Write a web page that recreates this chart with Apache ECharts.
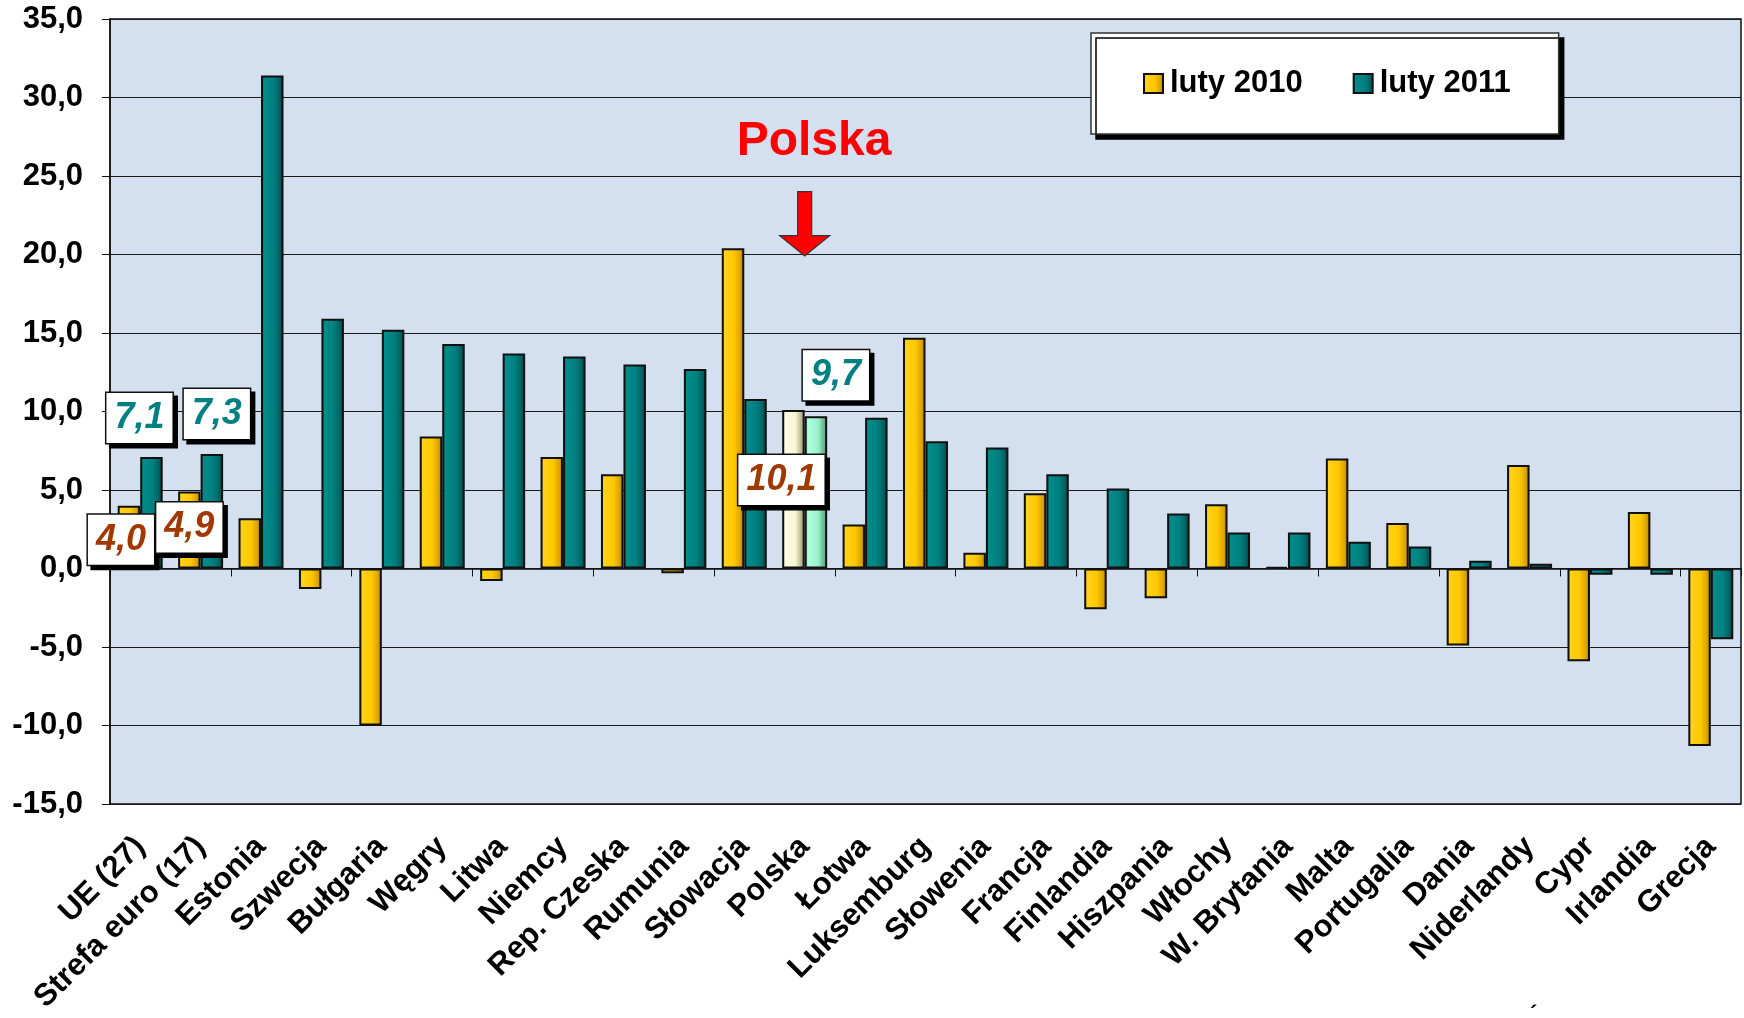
<!DOCTYPE html>
<html>
<head>
<meta charset="utf-8">
<script src="https://cdn.jsdelivr.net/npm/echarts@6/dist/echarts.min.js"></script>
<style>
html,body{margin:0;padding:0;background:#fff;}
#c{width:1744px;height:1018px;}
</style>
</head>
<body>
<div id="c"></div>
<script>
// ---- data ----
var categories = ['UE (27)', 'Strefa euro (17)', 'Estonia', 'Szwecja', 'Bułgaria', 'Węgry', 'Litwa', 'Niemcy', 'Rep. Czeska', 'Rumunia', 'Słowacja', 'Polska', 'Łotwa', 'Luksemburg', 'Słowenia', 'Francja', 'Finlandia', 'Hiszpania', 'Włochy', 'W. Brytania', 'Malta', 'Portugalia', 'Dania', 'Niderlandy', 'Cypr', 'Irlandia', 'Grecja'];
var luty2010 = [4.0, 4.9, 3.2, -1.3, -10.0, 8.4, -0.8, 7.1, 6.0, -0.3, 20.4, 10.1, 2.8, 14.7, 1.0, 4.8, -2.6, -1.9, 4.1, 0.1, 7.0, 2.9, -4.9, 6.6, -5.9, 3.6, -11.3];
var luty2011 = [7.1, 7.3, 31.4, 15.9, 15.2, 14.3, 13.7, 13.5, 13.0, 12.7, 10.8, 9.7, 9.6, 8.1, 7.7, 6.0, 5.1, 3.5, 2.3, 2.3, 1.7, 1.4, 0.5, 0.3, -0.4, -0.4, -4.5];
var seriesNames = ['luty 2010', 'luty 2011'];
var yMin = -15, yMax = 35, yStep = 5;
var highlightCategory = 'Polska';

// ---- styles ----
var FONT = "Arial, 'Liberation Sans', sans-serif";
function grad(stops) {
  return {type: 'linear', x: 0, y: 0, x2: 1, y2: 0,
    colorStops: stops.map(function (s) { return {offset: s[0], color: s[1]}; })};
}
var gold = grad([[0, '#C99A00'], [0.12, '#FFD21A'], [0.55, '#FFC800'], [0.85, '#D9A200'], [1, '#7A5C00']]);
var teal = grad([[0, '#005A5A'], [0.12, '#008C8A'], [0.55, '#008080'], [0.85, '#005F5F'], [1, '#002E2E']]);
var cream = grad([[0, '#D8D6B0'], [0.15, '#FFFFE6'], [0.6, '#F6F6D2'], [1, '#8F8D6C']]);
var mint = grad([[0, '#6CC8A0'], [0.15, '#B0FFE0'], [0.6, '#99F2CA'], [1, '#4E8E72']]);

// label placement for selected bars (pixel offsets from bar top)
var labelOffsets2010 = {0: [-8, 59], 1: [0, 61], 11: [-12, 95]};
var labelOffsets2011 = {0: [-12, -14], 1: [5, -15], 11: [20, -16]};

function fmt(v) { return v.toFixed(1).replace('.', ','); }

function buildData(vals, offsets, color, hlColor) {
  return vals.map(function (v, i) {
    var item = {value: v};
    if (categories[i] === highlightCategory) {
      item.itemStyle = {color: hlColor};
    }
    if (offsets[i]) {
      item.label = {
        show: true,
        position: 'top',
        distance: 0,
        offset: offsets[i],
        formatter: fmt(v),
        color: color,
        fontFamily: FONT,
        fontSize: 36,
        fontWeight: 'bold',
        fontStyle: 'italic',
        lineHeight: 36,
        backgroundColor: '#fff',
        borderColor: '#111',
        borderWidth: 1.5,
        padding: [7, 8, 7, 8],
        shadowColor: '#000',
        shadowOffsetX: 4,
        shadowOffsetY: 4,
        shadowBlur: 0
      };
    }
    return item;
  });
}

var chart = echarts.init(document.getElementById('c'), null, {renderer: 'canvas'});

var option = {
  backgroundColor: '#fff',
  animation: false,
  textStyle: {fontFamily: FONT},
  grid: {
    left: 110, right: 3, top: 19, bottom: 214,
    show: true, backgroundColor: '#D4DFEF', borderColor: '#111', borderWidth: 1.5
  },
  legend: {
    left: 1091, top: 33,
    orient: 'horizontal',
    data: seriesNames,
    backgroundColor: '#fff',
    borderColor: '#333',
    borderWidth: 1.5,
    padding: [35, 48, 35, 52],
    itemGap: 50,
    itemWidth: 19,
    itemHeight: 19,
    icon: 'rect',
    shadowColor: '#000',
    shadowOffsetX: 5,
    shadowOffsetY: 5,
    shadowBlur: 0,
    textStyle: {fontFamily: FONT, fontSize: 31, fontWeight: 'bold', color: '#000', padding: [0, 0, 0, 2]}
  },
  xAxis: [
    {
      type: 'category',
      data: categories,
      position: 'bottom',
      axisLine: {show: false, onZero: false},
      axisTick: {show: false},
      axisLabel: {
        interval: 0, rotate: 45, margin: 38,
        fontFamily: FONT, fontSize: 31, fontWeight: 'bold', color: '#000'
      },
      splitLine: {show: false}
    },
    {
      type: 'category',
      data: categories,
      position: 'bottom',
      axisLine: {show: true, onZero: true, lineStyle: {color: '#111', width: 1.5}},
      axisTick: {show: true, length: 8, lineStyle: {color: '#111', width: 1}},
      axisLabel: {show: false},
      splitLine: {show: false}
    }
  ],
  yAxis: {
    type: 'value',
    min: yMin, max: yMax, interval: yStep,
    axisLine: {show: true, lineStyle: {color: '#111', width: 1.5}},
    axisTick: {show: true, length: 8, lineStyle: {color: '#111'}},
    axisLabel: {
      margin: 27, formatter: fmt,
      fontFamily: FONT, fontSize: 31, fontWeight: 'bold', color: '#000'
    },
    splitLine: {show: true, lineStyle: {color: '#1a1a1a', width: 1.2}}
  },
  series: [
    {
      name: seriesNames[0],
      type: 'bar',
      xAxisIndex: 0,
      data: buildData(luty2010, labelOffsets2010, '#A03800', cream),
      barWidth: 22.5,
      barGap: '0%',
      itemStyle: {color: gold, borderColor: '#111', borderWidth: 2},
      label: {show: false}
    },
    {
      name: seriesNames[1],
      type: 'bar',
      xAxisIndex: 0,
      data: buildData(luty2011, labelOffsets2011, '#008080', mint),
      barWidth: 22.5,
      barGap: '0%',
      itemStyle: {color: teal, borderColor: '#111', borderWidth: 2},
      label: {show: false}
    }
  ]
};
chart.setOption(option);

// Annotation: "Polska" with arrow pointing to the highlighted category
var px = chart.convertToPixel({xAxisIndex: 0}, highlightCategory);
var yTop = chart.convertToPixel({yAxisIndex: 0}, 24);
var yHead = chart.convertToPixel({yAxisIndex: 0}, 21.2);
var yTip = chart.convertToPixel({yAxisIndex: 0}, 19.9);
chart.setOption({
  graphic: [
    {
      type: 'text', left: px - 68, top: 118, z: 100,
      style: {text: 'Polska', fill: '#FF0000', font: 'bold 48px ' + FONT}
    },
    {
      type: 'polygon', z: 100,
      shape: {points: [
        [px - 7, yTop], [px + 7, yTop], [px + 7, yHead], [px + 25, yHead],
        [px, yTip], [px - 25, yHead], [px - 7, yHead]
      ]},
      style: {fill: '#FF0000', stroke: '#333', lineWidth: 1.2}
    },
    {
      type: 'text', left: 1530, top: 1004, z: 100,
      style: {text: '´', fill: '#000', font: 'bold 22px ' + FONT}
    }
  ]
});
</script>
</body>
</html>
